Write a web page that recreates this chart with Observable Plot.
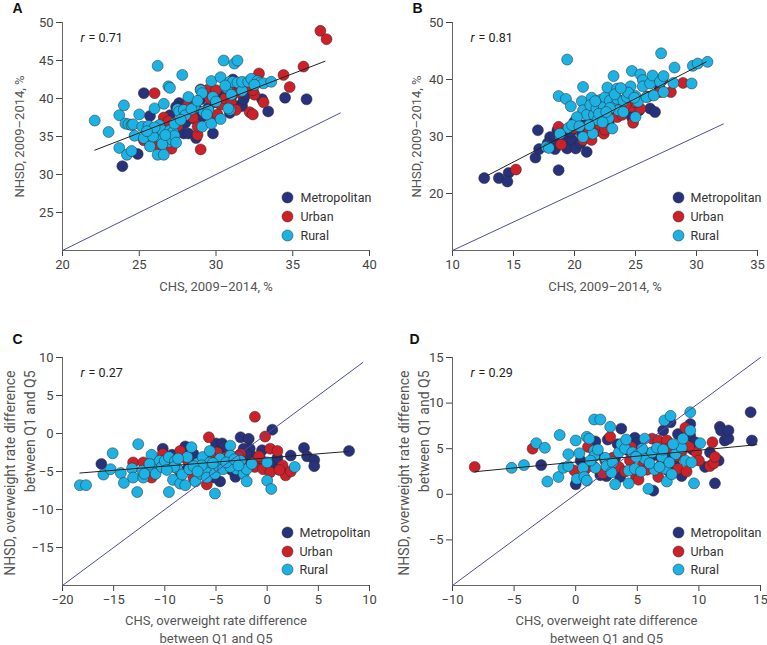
<!DOCTYPE html>
<html><head><meta charset="utf-8">
<script src="https://cdn.jsdelivr.net/npm/d3@7"></script>
<script src="https://cdn.jsdelivr.net/npm/@observablehq/plot@0.6"></script>
<style>
body{margin:0;background:#fff;}
#wrap{position:relative;width:767px;height:645px;overflow:hidden;background:#fff;}
.panel{position:absolute;}
.panel svg{overflow:visible;}
</style></head><body><div id="wrap"></div>
<script>
const categories = ["Metropolitan", "Urban", "Rural"];
const catColors = ["#28317c", "#cc2128", "#1db2e4"];

// ---- Panel A ----
const aMetro = [[23.9,31.1],[24.9,32.7],[25.3,40.7],[25.7,37.7],[26.8,37.4],[27.0,37.8],[27.6,39.4],[27.9,35.4],[28.2,35.4],[28.0,36.8],[28.4,37.4],[28.7,34.8],[29.0,39.9],[29.1,37.6],[29.8,35.4],[30.4,40.3],[30.9,38.1],[31.0,40.2],[31.1,42.5],[31.4,39.0],[31.7,39.0],[31.8,39.9],[33.0,39.9],[33.4,38.3],[34.5,40.1],[35.9,39.9],[26.3,35.4],[27.0,36.0],[29.5,38.8],[30.2,40.0],[31.2,41.3],[28.8,38.5],[26.6,36.9],[32.0,40.6],[27.4,38.9],[29.9,39.5]];
const aUrban = [[36.8,48.9],[37.2,47.8],[35.7,44.2],[34.4,43.1],[34.8,41.5],[32.8,43.3],[32.5,40.5],[32.4,41.1],[32.2,38.2],[32.4,37.9],[33.1,39.5],[26.0,40.7],[25.3,34.5],[25.8,34.8],[26.2,33.9],[26.6,37.5],[27.1,33.4],[28.8,35.2],[28.8,36.3],[29.0,33.3],[29.0,41.2],[29.5,41.2],[30.0,41.1],[28.5,37.5],[29.3,38.0],[29.8,37.6],[30.3,39.2],[30.6,40.0],[31.0,39.4],[31.5,40.8],[28.0,38.8],[27.5,36.4],[26.9,37.0],[30.1,37.9],[31.3,38.5],[28.2,39.3],[29.6,40.0],[30.9,41.0],[32.0,41.5]];
const aRural = [[22.1,37.1],[23.0,35.6],[23.7,33.5],[23.7,37.8],[24.0,39.1],[24.1,36.7],[24.3,36.6],[24.5,36.5],[24.6,36.6],[24.2,32.6],[24.5,33.1],[24.7,35.1],[25.0,37.9],[25.2,36.3],[25.3,34.8],[25.7,33.7],[25.6,36.4],[26.0,38.7],[26.2,44.3],[26.2,32.6],[26.3,36.5],[26.4,34.8],[26.5,35.8],[26.6,39.3],[26.6,32.6],[26.8,34.9],[26.9,41.6],[27.0,41.4],[27.0,35.8],[27.2,35.6],[27.3,36.7],[27.5,38.6],[27.6,38.3],[27.8,43.1],[27.9,38.5],[28.2,40.2],[28.6,38.8],[29.0,41.1],[29.1,40.7],[29.1,36.3],[29.2,38.3],[29.5,38.5],[29.7,42.3],[29.7,36.7],[29.8,40.2],[30.0,39.6],[30.3,37.3],[30.3,42.8],[30.5,45.0],[30.7,41.4],[30.9,38.5],[30.9,42.2],[31.1,42.2],[31.2,44.6],[31.4,45.0],[31.4,42.1],[31.7,41.0],[31.7,42.2],[32.1,42.2],[32.3,42.6],[32.7,42.3],[32.9,42.1],[33.1,42.0],[33.6,42.2],[26.9,34.3],[27.1,34.6],[26.5,34.0],[27.3,35.1],[26.7,35.2],[27.4,34.2],[25.9,35.0],[28.0,37.8],[27.7,37.2],[26.0,36.2],[25.5,35.7],[28.4,38.6],[29.4,37.9],[28.8,39.7],[30.6,41.7],[31.0,40.5],[32.5,41.8],[30.8,38.7]];
const aXDomain = [20, 40], aYDomain = [20, 50];
const aXTicks = [20, 25, 30, 35, 40], aYTicks = [25, 30, 35, 40, 45, 50];
const aIdentity = [20, 38.1];
const aFit = [[22.1, 33.2], [37.1, 44.9]];
const aR = "0.71";

// ---- Panel B ----
const bMetro = [[12.6,22.7],[13.8,22.7],[14.6,23.6],[14.5,22.1],[16.8,26.3],[17.0,31.1],[17.1,27.8],[18.4,27.8],[18.6,31.1],[18.7,24.1],[18.7,28.8],[19.1,29.4],[19.4,27.9],[19.5,29.9],[19.8,29.4],[20.0,32.6],[20.1,27.9],[20.3,32.3],[20.5,28.8],[21.0,27.3],[20.6,30.5],[20.9,32.0],[21.8,33.4],[22.4,33.7],[23.2,34.6],[23.7,35.8],[24.3,34.3],[24.7,33.4],[25.3,34.6],[26.2,34.9],[26.6,34.3],[27.0,38.4],[27.2,40.1],[18.0,29.9],[17.8,28.8],[19.7,30.8],[18.8,30.8],[21.3,33.4],[22.8,32.4],[21.9,31.0]];
const bUrban = [[15.2,24.2],[18.7,31.7],[18.9,28.6],[20.7,29.4],[21.4,29.4],[22.4,30.5],[21.8,31.7],[23.5,35.2],[24.8,32.4],[24.7,35.2],[25.4,34.9],[24.6,36.9],[27.2,39.9],[27.9,37.8],[28.9,39.4],[27.0,37.8],[22.9,33.4],[23.5,33.4],[21.2,30.8],[19.9,31.5],[22.1,32.1],[23.9,33.8],[25.0,36.0],[26.0,37.0],[22.5,31.2],[24.2,35.6]];
const bRural = [[19.4,43.5],[18.7,37.1],[19.3,36.6],[19.7,35.3],[19.5,31.5],[17.7,28.2],[18.8,30.5],[20.7,38.7],[20.6,36.2],[20.7,34.6],[20.7,29.9],[21.0,33.8],[21.4,36.8],[21.5,30.5],[21.3,35.5],[21.6,33.8],[21.8,34.9],[22.1,36.4],[21.9,32.9],[22.4,35.2],[22.5,36.9],[22.7,38.6],[22.8,33.2],[22.9,36.3],[23.2,40.6],[23.1,31.4],[23.2,35.2],[23.5,38.4],[23.5,36.6],[23.6,34.6],[24.0,36.3],[24.0,34.3],[24.3,36.9],[24.6,38.8],[24.7,41.5],[25.0,37.1],[25.0,33.4],[25.2,36.1],[25.4,40.9],[25.6,39.9],[25.6,38.8],[25.9,36.9],[26.2,39.3],[26.4,40.7],[26.5,37.2],[27.1,44.6],[27.0,39.6],[27.3,40.6],[27.3,37.8],[28.1,39.4],[28.2,42.1],[29.6,39.3],[29.7,42.4],[30.1,42.8],[30.9,43.1],[20.2,33.4],[21.2,32.0],[22.0,34.0],[22.3,32.5],[21.7,36.2],[22.9,35.0],[23.3,37.4],[24.4,37.7],[19.8,32.0],[17.9,28.0],[20.4,31.8],[22.6,34.3],[23.8,38.5],[24.9,36.8]];
const bXDomain = [10, 35], bYDomain = [10, 50];
const bXTicks = [10, 15, 20, 25, 30, 35], bYTicks = [20, 30, 40, 50];
const bIdentity = [10, 32.2];
const bFit = [[12.9, 23.2], [30.8, 43.1]];
const bR = "0.81";

// ---- Panel C ----
const cMetro = [[-16.2,-4.0],[-10.2,-2.0],[-8.0,-1.7],[-7.2,-2.7],[-5.0,-1.3],[-4.4,-1.3],[-4.2,-1.8],[-2.6,-0.5],[-1.8,-0.7],[-1.7,-2.0],[-2.3,-2.0],[0.5,0.5],[-0.5,-2.2],[2.3,-2.9],[3.6,-1.9],[3.9,-3.0],[4.6,-3.5],[4.6,-4.3],[8.0,-2.3],[-4.6,-6.3],[-3.1,-5.7],[-5.2,-5.8],[-7.8,-4.7],[-1.3,-3.1],[0.6,-4.0],[1.1,-4.7],[-6.2,-3.5],[-4.8,-2.5],[-3.5,-4.8],[-2.0,-2.8],[-1.0,-3.5],[1.0,-3.2],[-8.5,-5.0],[-9.3,-2.8],[-0.2,-4.5]];
const cUrban = [[-1.2,2.2],[-5.7,-0.5],[-0.2,-0.4],[0.3,-2.0],[1.0,-2.3],[-5.9,-6.7],[-13.1,-3.8],[-12.1,-3.8],[-11.3,-5.8],[-10.2,-2.7],[-8.5,-2.3],[-6.9,-4.0],[-7.2,-5.8],[-4.9,-2.5],[-3.3,-3.1],[-2.6,-2.7],[-1.2,-4.4],[-0.4,-4.7],[0.3,-5.1],[1.5,-4.2],[1.8,-5.5],[2.3,-5.0],[-0.7,-3.2],[-2.1,-4.0],[-1.4,-3.8],[-5.5,-3.0],[-4.0,-3.5],[-2.8,-3.0],[-1.8,-4.3],[-0.8,-3.0],[-6.2,-4.5],[-3.7,-2.8],[1.2,-4.8],[-9.5,-3.7],[-7.8,-3.5]];
const cRural = [[-18.3,-6.8],[-17.7,-6.8],[-16.0,-5.4],[-15.1,-2.6],[-15.3,-4.7],[-14.3,-5.2],[-14.0,-6.5],[-13.2,-4.6],[-13.1,-5.8],[-12.7,-7.7],[-12.6,-1.4],[-12.2,-4.9],[-12.1,-5.8],[-11.3,-2.8],[-11.2,-4.4],[-10.9,-5.3],[-10.5,-3.6],[-10.3,-4.4],[-10.0,-3.6],[-9.6,-3.1],[-9.6,-7.7],[-9.2,-6.1],[-9.0,-3.6],[-8.8,-4.6],[-8.5,-6.6],[-8.0,-6.8],[-8.3,-5.4],[-7.8,-3.1],[-7.6,-4.7],[-7.4,-1.8],[-7.0,-6.3],[-6.8,-3.9],[-6.5,-5.3],[-6.3,-3.1],[-6.0,-4.7],[-5.9,-5.8],[-5.6,-3.8],[-5.6,-2.3],[-5.1,-7.9],[-5.1,-5.3],[-4.7,-4.4],[-4.6,-3.3],[-4.3,-4.7],[-3.6,-1.6],[-3.6,-2.9],[-3.3,-4.0],[-3.0,-4.7],[-2.6,-3.6],[-2.3,-5.3],[-2.0,-6.3],[-2.0,-4.7],[0.0,-3.8],[0.0,-6.2],[0.4,-7.3],[2.7,-4.4],[-6.4,-4.2],[-9.1,-4.4],[-3.6,-4.4],[-11.5,-4.0],[-8.7,-3.3],[-7.2,-4.3],[-5.3,-3.9],[-4.0,-3.8],[-3.2,-3.4],[-6.8,-5.0],[-9.8,-4.8],[-12.0,-5.3],[-2.8,-4.2],[-1.5,-4.0]];
const cXDomain = [-20, 10], cYDomain = [-20, 10];
const cXTicks = [-20, -15, -10, -5, 0, 5, 10], cYTicks = [-15, -10, -5, 0, 5, 10];
const cIdentity = [-20, 9.35];
const cFit = [[-18.3, -5.2], [8.0, -2.35]];
const cR = "0.27";

// ---- Panel D ----
const dMetro = [[-2.8,3.2],[0.0,1.1],[0.4,3.7],[1.6,5.8],[2.6,6.0],[3.7,7.2],[2.5,2.0],[3.6,1.9],[4.8,6.2],[6.3,0.4],[7.1,7.0],[7.7,7.9],[8.3,6.6],[9.3,7.7],[9.3,6.4],[8.6,2.0],[10.5,3.0],[10.9,4.6],[11.3,1.2],[11.6,3.7],[11.7,7.4],[11.8,7.0],[12.1,5.9],[12.4,6.1],[12.4,7.0],[14.2,9.0],[14.3,5.9],[9.7,5.7],[1.8,4.4],[3.2,4.0],[5.6,3.7],[7.8,4.0],[4.3,4.8],[6.5,4.3],[8.0,3.3],[9.5,4.9],[5.0,5.6],[2.0,2.1],[3.4,5.5],[7.5,2.6]];
const dUrban = [[-8.2,3.0],[-3.5,5.0],[-0.1,2.6],[1.0,5.2],[2.8,6.3],[3.5,3.0],[4.4,3.7],[4.9,1.9],[5.1,1.6],[5.4,3.1],[6.2,6.1],[6.7,1.9],[6.7,5.9],[7.4,5.9],[7.5,5.0],[8.3,2.8],[8.9,7.3],[9.0,2.5],[9.8,4.6],[10.0,3.7],[10.9,3.1],[11.2,3.4],[11.1,5.7],[11.3,4.1],[1.4,3.1],[2.4,3.7],[4.5,5.2],[5.1,4.4],[8.2,4.2],[9.2,5.2],[3.0,4.0],[6.0,4.5],[7.0,3.4],[5.8,2.7],[4.0,2.5],[2.2,2.3],[0.8,2.8],[8.6,4.7]];
const dRural = [[-5.2,2.9],[-4.2,3.2],[-3.2,5.6],[-2.5,5.1],[-2.3,1.4],[-1.3,6.5],[-1.4,1.9],[-1.0,2.9],[-0.6,3.1],[-0.6,4.4],[0.0,5.9],[0.3,4.5],[0.1,1.7],[0.6,2.9],[0.7,1.9],[0.9,1.5],[0.9,6.3],[1.1,6.1],[1.5,4.8],[1.5,4.2],[1.5,8.2],[2.0,8.2],[1.8,4.9],[1.6,2.9],[2.4,4.0],[2.5,3.1],[2.8,7.4],[3.2,1.1],[3.5,4.6],[3.7,5.5],[4.0,5.0],[4.1,6.0],[4.3,1.2],[4.3,2.6],[4.6,4.6],[4.8,2.8],[5.6,3.9],[5.6,6.1],[5.9,0.6],[6.2,4.6],[6.4,2.7],[6.6,5.1],[7.0,4.1],[7.1,4.9],[7.2,8.1],[7.7,8.6],[7.3,2.8],[7.4,1.4],[7.8,2.2],[8.1,4.4],[8.6,5.1],[8.7,6.1],[8.9,3.7],[9.3,7.0],[9.3,9.0],[9.4,3.5],[9.6,1.2],[10.1,5.6],[7.9,5.5],[5.4,5.0],[6.0,3.4],[3.0,3.5],[4.9,4.1],[7.6,3.5],[2.9,2.4],[5.3,2.5],[6.8,3.0],[1.2,3.7]];
const dXDomain = [-10, 15], dYDomain = [-10, 15];
const dXTicks = [-10, -5, 0, 5, 10, 15], dYTicks = [-5, 0, 5, 10, 15];
const dIdentity = [-10, 15];
const dFit = [[-8.15, 2.48], [14.7, 5.44]];
const dR = "0.29";

const labelsTop = {x: "CHS, 2009\u20132014, %", y: "NHSD, 2009\u20132014, %"};
const labelsBottom = {x: "CHS, overweight rate difference\nbetween Q1 and Q5", y: "NHSD, overweight rate difference\nbetween Q1 and Q5"};

const panels = [
  {letter: "A", pts: [aMetro, aUrban, aRural], xd: aXDomain, yd: aYDomain, xt: aXTicks, yt: aYTicks, id: aIdentity, fit: aFit, r: aR, labels: labelsTop,
   left: 0, top: 0, width: 384, height: 300, mL: 62, mR: 15, mT: 22, mB: 50, letterX: 12, letterY: 8, legDot: -82, legText: -69, legDy: [-53, -34, -15], xLabDy: 35,
   yLab: {frameAnchor: "left", textAnchor: "middle", dx: -45, dy: 0, fontSize: 13, lineHeight: 1.5}},
  {letter: "B", pts: [bMetro, bUrban, bRural], xd: bXDomain, yd: bYDomain, xt: bXTicks, yt: bYTicks, id: bIdentity, fit: bFit, r: bR, labels: labelsTop,
   left: 384, top: 0, width: 383, height: 300, mL: 68, mR: 10, mT: 22, mB: 50, letterX: 28, letterY: 8, legDot: -79, legText: -67, legDy: [-53, -34, -15], xLabDy: 35,
   yLab: {frameAnchor: "left", textAnchor: "middle", dx: -38, dy: 0, fontSize: 13, lineHeight: 1.5}},
  {letter: "C", pts: [cMetro, cUrban, cRural], xd: cXDomain, yd: cYDomain, xt: cXTicks, yt: cYTicks, id: cIdentity, fit: cFit, r: cR, labels: labelsBottom,
   left: 0, top: 320, width: 384, height: 325, mL: 62, mR: 15, mT: 37, mB: 60, letterX: 12, letterY: 19, legDot: -82, legText: -70, legDy: [-53, -34, -16], xLabDy: 43,
   yLab: {frameAnchor: "top-left", textAnchor: "end", dx: -44, dy: 13, fontSize: 14, lineHeight: 1.45}},
  {letter: "D", pts: [dMetro, dUrban, dRural], xd: dXDomain, yd: dYDomain, xt: dXTicks, yt: dYTicks, id: dIdentity, fit: dFit, r: dR, labels: labelsBottom,
   left: 384, top: 320, width: 383, height: 325, mL: 68, mR: 7, mT: 37, mB: 60, letterX: 25, letterY: 19, legDot: -82, legText: -70, legDy: [-53, -34, -16], xLabDy: 43,
   yLab: {frameAnchor: "top-left", textAnchor: "end", dx: -40, dy: 13, fontSize: 14, lineHeight: 1.4}}
];

const FONT = "Roboto, 'Noto Sans', sans-serif";
const wrap = document.getElementById("wrap");

for (const p of panels) {
  const rows = [];
  categories.forEach((c, i) => p.pts[i].forEach(([x, y]) => rows.push({x, y, cat: c})));
  const idRows = p.id.map(v => ({x: v, y: v}));
  const fitRows = p.fit.map(([x, y]) => ({x, y}));
  const legend = categories.flatMap((c, i) => [
    Plot.dot([c], {frameAnchor: "bottom-right", dx: p.legDot, dy: p.legDy[i], r: 5.5, fill: catColors[i], stroke: "#2a2a2a", strokeWidth: 0.5}),
    Plot.text([c], {frameAnchor: "bottom-right", lineAnchor: "middle", dx: p.legText, dy: p.legDy[i], text: d => d, textAnchor: "start", fontSize: 12.5, fill: "#333"})
  ]);
  const chart = Plot.plot({
    width: p.width, height: p.height,
    marginLeft: p.mL, marginRight: p.mR, marginTop: p.mT, marginBottom: p.mB,
    style: {fontFamily: FONT, fontSize: "13px", color: "#444", background: "transparent"},
    x: {domain: p.xd, ticks: p.xt, tickSize: 6, label: null},
    y: {domain: p.yd, ticks: p.yt, tickSize: 6, label: null},
    color: {domain: categories, range: catColors},
    marks: [
      Plot.ruleX([p.xd[0]], {stroke: "#666", strokeWidth: 1}),
      Plot.ruleY([p.yd[0]], {stroke: "#666", strokeWidth: 1}),
      Plot.dot(rows, {x: "x", y: "y", fill: "cat", r: 5.5, stroke: "#2a2a2a", strokeWidth: 0.5, fillOpacity: 1}),
      Plot.line(idRows, {x: "x", y: "y", stroke: "#4d4d9e", strokeWidth: 1}),
      Plot.line(fitRows, {x: "x", y: "y", stroke: "#222", strokeWidth: 1}),
      Plot.text(["r"], {frameAnchor: "top-left", lineAnchor: "middle", dx: 18, dy: 15, text: d => d, textAnchor: "start", fontStyle: "italic", fontSize: 12.5, fill: "#222"}),
      Plot.text(["= " + p.r], {frameAnchor: "top-left", lineAnchor: "middle", dx: 26, dy: 15, text: d => d, textAnchor: "start", fontSize: 12.5, fill: "#222"}),
      ...legend,
      Plot.text([p.labels.x], {frameAnchor: "bottom", lineAnchor: "middle", textAnchor: "middle", dy: p.xLabDy, text: d => d, fontSize: 13, fill: "#555", lineHeight: 1.4}),
      Plot.text([p.labels.y], {frameAnchor: p.yLab.frameAnchor, lineAnchor: "middle", textAnchor: p.yLab.textAnchor, dx: p.yLab.dx, dy: p.yLab.dy, rotate: -90, text: d => d, fontSize: p.yLab.fontSize, fill: "#555", lineHeight: p.yLab.lineHeight}),
      Plot.text([p.letter], {frameAnchor: "top-left", lineAnchor: "middle", textAnchor: "start", dx: p.letterX - p.mL, dy: p.letterY - p.mT, text: d => d, fontSize: 14, fontWeight: "bold", fill: "#111", fontFamily: "'Liberation Sans', Arial, sans-serif"})
    ]
  });
  const div = document.createElement("div");
  div.className = "panel";
  div.style.left = p.left + "px";
  div.style.top = p.top + "px";
  div.appendChild(chart);
  wrap.appendChild(div);
}
</script>
</body></html>
